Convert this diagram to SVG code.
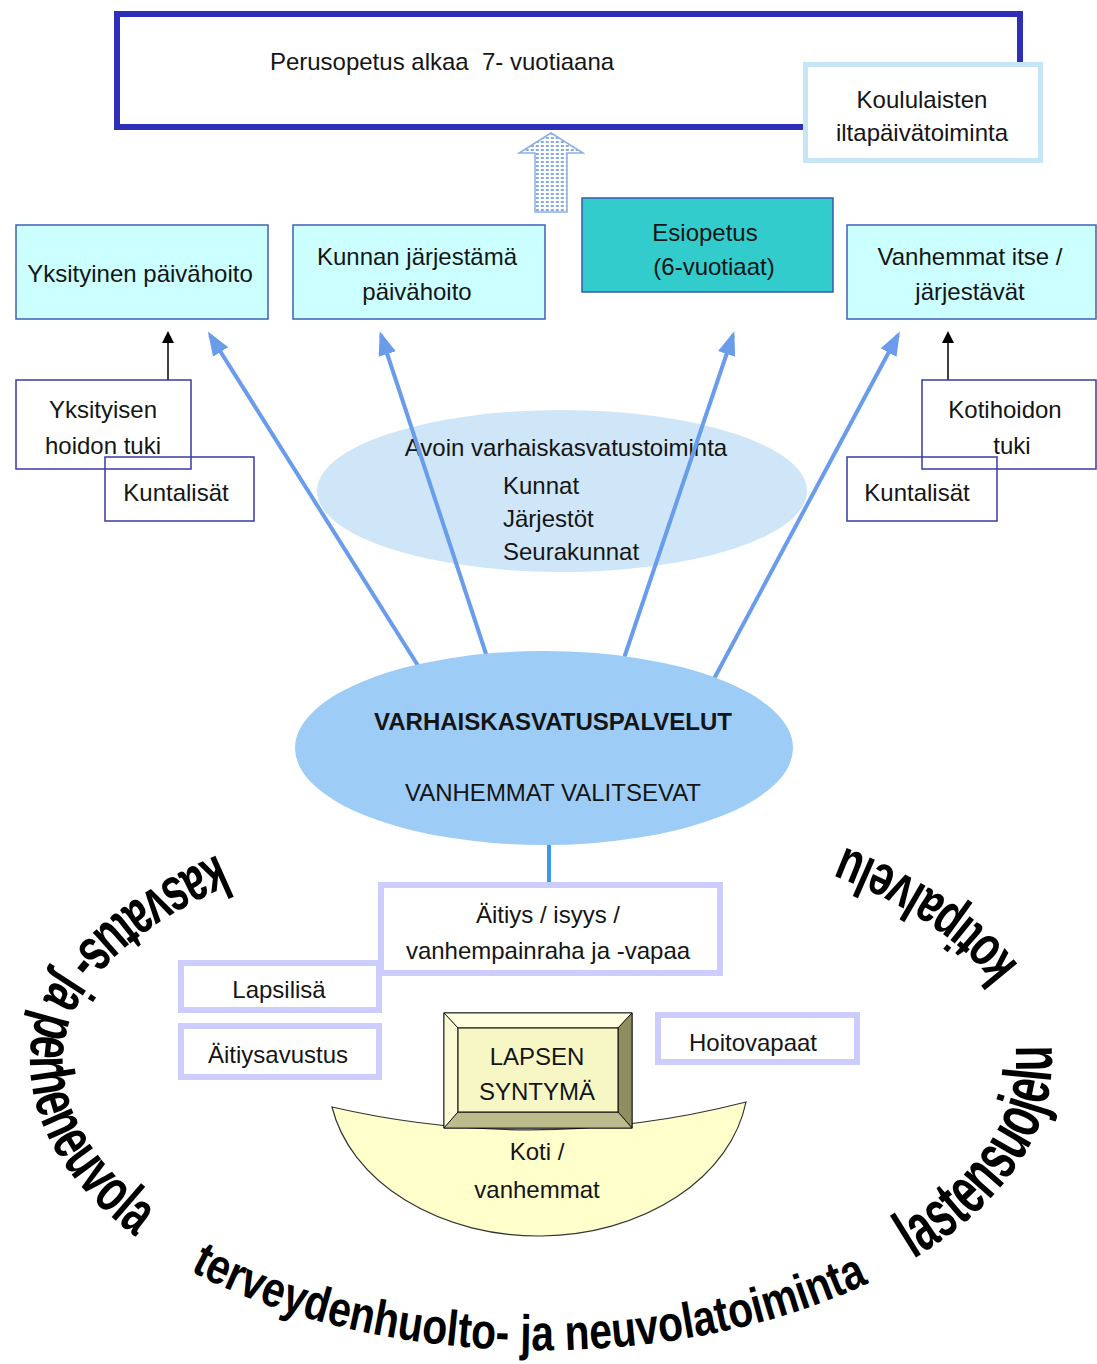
<svg xmlns="http://www.w3.org/2000/svg" width="1097" height="1364" viewBox="0 0 1097 1364">
<style>
.t{font-family:"Liberation Sans",Arial,sans-serif;font-size:24px;fill:#151515;text-anchor:middle}
.ts{text-anchor:start}
.b{font-weight:bold}
.wa{font-family:"Liberation Sans",Arial,sans-serif;font-weight:bold;fill:#000}
.cyan{fill:#ccffff;stroke:#4060b8;stroke-width:1.5}
.wbox{fill:none;stroke:#3a3aa8;stroke-width:1.5}
.lav{fill:#fff;stroke:#ccccff;stroke-width:6}
.barrow{stroke:#6a9cec;stroke-width:4;fill:none;marker-end:url(#bh)}
.karrow{stroke:#000;stroke-width:1.5}
</style>
<defs>
<marker id="bh" markerUnits="userSpaceOnUse" markerWidth="26" markerHeight="20" refX="20" refY="9" orient="auto">
<path d="M0,0 L24,9 L0,18 z" fill="#6a9cec"/>
</marker>
<pattern id="dots" width="5" height="4" patternUnits="userSpaceOnUse">
<rect width="5" height="4" fill="#ffffff"/>
<rect x="0.8" y="1" width="3" height="2" fill="#86aae6"/>
</pattern>
<path id="p1" d="M 222,853 A 511,265 0 0,0 30,1060 A 511,290 0 0,0 135,1236"/>
<path id="p2" d="M 185,1268 A 511,290 0 0,0 875,1280"/>
<path id="p3" d="M 910,1261 A 511,290 0 0,0 1052,1060 A 511,265 0 0,0 1051,1043"/>
<path id="p4" d="M 1021,969 A 511,265 0 0,0 841,846"/>
</defs>

<rect width="1097" height="1364" fill="#ffffff"/>

<g id="n-perusopetus">
<rect x="117" y="14" width="903" height="113" fill="#fff" stroke="#2e2eb8" stroke-width="6"/>
<text class="t" x="442" y="70">Perusopetus alkaa&#160; 7- vuotiaana</text>
</g>
<g id="n-koululaiset">
<rect x="805.5" y="64.5" width="235" height="96" fill="#fff" stroke="#c6e6f6" stroke-width="5"/>
<text class="t" x="922" y="108">Koululaisten</text>
<text class="t" x="922" y="141">iltapäivätoiminta</text>
</g>

<g id="n-avoin">
<ellipse cx="562" cy="491" rx="245" ry="81" fill="#cfe6f8"/>
<text class="t" x="566" y="456">Avoin varhaiskasvatustoiminta</text>
<text class="t ts" x="503" y="494">Kunnat</text>
<text class="t ts" x="503" y="527">Järjestöt</text>
<text class="t ts" x="503" y="560">Seurakunnat</text>
</g>

<g id="connectors">
<polygon points="551,133 583,153 567,153 567,212 535,212 535,153 519,153" fill="url(#dots)" stroke="#8cafe6" stroke-width="1.5"/>
<line class="barrow" x1="422" y1="672" x2="210" y2="335"/>
<line class="barrow" x1="488" y1="660" x2="381" y2="335"/>
<line class="barrow" x1="620" y1="670" x2="733" y2="335"/>
<line class="barrow" x1="708" y1="690" x2="898" y2="335"/>
<line class="karrow" x1="168" y1="380" x2="168" y2="342"/>
<polygon points="162,343 174,343 168,331" fill="#000"/>
<line class="karrow" x1="948" y1="380" x2="948" y2="342"/>
<polygon points="942,343 954,343 948,331" fill="#000"/>
<line x1="549" y1="840" x2="549" y2="882" stroke="#3a9ae8" stroke-width="4"/>
</g>

<g id="n-yksityinen">
<rect class="cyan" x="16" y="225" width="252" height="94"/>
<text class="t" x="140" y="282">Yksityinen päivähoito</text>
</g>
<g id="n-kunnan">
<rect class="cyan" x="293" y="225" width="252" height="94"/>
<text class="t" x="417" y="265">Kunnan järjestämä</text>
<text class="t" x="417" y="300">päivähoito</text>
</g>
<g id="n-esiopetus">
<rect x="582" y="198" width="251" height="94" fill="#33cccc" stroke="#3a58b0" stroke-width="1.5"/>
<text class="t" x="705" y="241">Esiopetus</text>
<text class="t" x="714" y="275">(6-vuotiaat)</text>
</g>
<g id="n-vanhemmat">
<rect class="cyan" x="847" y="225" width="249" height="94"/>
<text class="t" x="970" y="265">Vanhemmat itse /</text>
<text class="t" x="970" y="300">järjestävät</text>
</g>

<g id="n-yks-tuki">
<rect class="wbox" x="16" y="380" width="175" height="89"/>
<text class="t" x="103" y="418">Yksityisen</text>
<text class="t" x="103" y="454">hoidon tuki</text>
</g>
<g id="n-kuntalisat-l">
<rect class="wbox" x="105" y="457" width="149" height="64"/>
<text class="t" x="176" y="501">Kuntalisät</text>
</g>
<g id="n-kotihoito">
<rect class="wbox" x="922" y="380" width="174" height="89"/>
<text class="t" x="1005" y="418">Kotihoidon</text>
<text class="t" x="1012" y="454">tuki</text>
</g>
<g id="n-kuntalisat-r">
<rect class="wbox" x="847" y="457" width="150" height="64"/>
<text class="t" x="917" y="501">Kuntalisät</text>
</g>

<g id="n-varhais">
<ellipse cx="544" cy="748" rx="249" ry="97" fill="#9dcdf7"/>
<text class="t b" x="553" y="730" textLength="358" lengthAdjust="spacingAndGlyphs">VARHAISKASVATUSPALVELUT</text>
<text class="t" x="553" y="801">VANHEMMAT VALITSEVAT</text>
</g>

<g id="n-aitiys">
<rect class="lav" x="381" y="885" width="339" height="88"/>
<text class="t" x="548" y="923">Äitiys / isyys /</text>
<text class="t" x="548" y="959">vanhempainraha ja -vapaa</text>
</g>
<g id="n-lapsilisa">
<rect class="lav" x="181" y="963" width="198" height="47"/>
<text class="t" x="279" y="998">Lapsilisä</text>
</g>
<g id="n-aitiysavustus">
<rect class="lav" x="181" y="1026" width="198" height="51"/>
<text class="t" x="278" y="1063">Äitiysavustus</text>
</g>
<g id="n-hoitovapaat">
<rect class="lav" x="658" y="1015" width="199" height="47"/>
<text class="t" x="753" y="1051">Hoitovapaat</text>
</g>

<g id="n-koti">
<path d="M 332,1107 Q 540,1155 746,1102 A 210,158 0 0,1 332,1107 z" fill="#ffffcc" stroke="#333" stroke-width="1.2"/>
<text class="t" x="537" y="1160">Koti /</text>
<text class="t" x="537" y="1198">vanhemmat</text>
</g>

<g id="n-lapsen">
<rect x="444" y="1013" width="188" height="115" fill="#f7f7c6" stroke="#000" stroke-width="1"/>
<polygon points="444,1013 632,1013 618,1028 458,1028" fill="#ffffe0" stroke="#000" stroke-width="0.8"/>
<polygon points="444,1013 458,1028 458,1112 444,1128" fill="#fbfbd6" stroke="#000" stroke-width="0.8"/>
<polygon points="632,1013 632,1128 618,1112 618,1028" fill="#8e8e60" stroke="#000" stroke-width="0.8"/>
<polygon points="444,1128 632,1128 618,1112 458,1112" fill="#bcbc8e" stroke="#000" stroke-width="0.8"/>
<rect x="458" y="1028" width="160" height="84" fill="#f7f7c6" stroke="#000" stroke-width="1"/>
<text class="t" x="537" y="1065">LAPSEN</text>
<text class="t" x="537" y="1100">SYNTYMÄ</text>
</g>

<g id="ring-text">
<text class="wa" font-size="62" textLength="508" lengthAdjust="spacingAndGlyphs"><textPath href="#p1" startOffset="4">kasvatus- ja perheneuvola</textPath></text>
<text class="wa" font-size="50" textLength="700" lengthAdjust="spacingAndGlyphs"><textPath href="#p2" startOffset="6">terveydenhuolto- ja neuvolatoiminta</textPath></text>
<text class="wa" font-size="68" textLength="268" lengthAdjust="spacingAndGlyphs"><textPath href="#p3" startOffset="4">lastensuojelu</textPath></text>
<text class="wa" font-size="58" textLength="214" lengthAdjust="spacingAndGlyphs"><textPath href="#p4" startOffset="4">kotipalvelu</textPath></text>
</g>
</svg>
